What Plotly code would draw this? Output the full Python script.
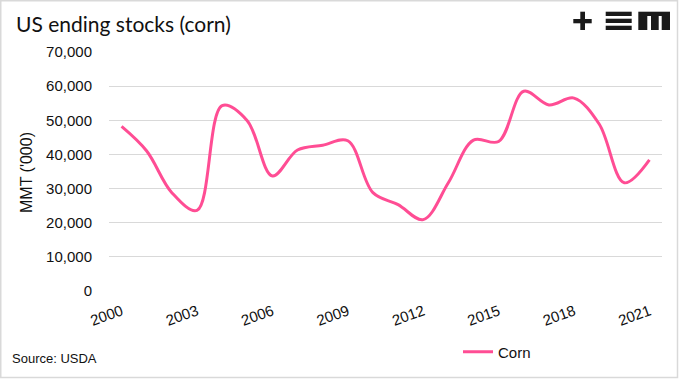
import plotly.graph_objects as go

years = [str(y) for y in range(2000, 2022)]
corn = [48200, 41000, 28800, 23600, 54300, 49900, 33700, 41300, 42700, 44000,
        28800, 25300, 20900, 31700, 44200, 43800, 58500, 54500, 56500, 48900,
        31700, 38400]
tick_years = ["2000", "2003", "2006", "2009", "2012", "2015", "2018", "2021"]
y_ticks = [0, 10000, 20000, 30000, 40000, 50000, 60000, 70000]

W, H = 681, 379
L, R, T, B = 109, 19, 52, 88
PW, PH = W - L - R, H - T - B


def px(x):
    return (x - L) / PW


def py(y):
    return (H - B - y) / PH


fig = go.Figure()
fig.add_trace(go.Scatter(
    x=years, y=corn, mode="lines", name="Corn",
    line=dict(color="#ff4d94", width=3, shape="spline", smoothing=1),
))

shapes = []
# outer border
shapes.append(dict(type="rect", xref="paper", yref="paper",
                   x0=px(0.75), x1=px(677.5), y0=py(377.5), y1=py(0.75),
                   line=dict(color="#d9d9d9", width=1.5), fillcolor="rgba(0,0,0,0)", layer="below"))


def box(x0, y0, x1, y1, color="#1a1a1a"):
    shapes.append(dict(type="rect", xref="paper", yref="paper",
                       x0=px(x0), x1=px(x1), y0=py(y1), y1=py(y0),
                       line=dict(width=0), fillcolor=color, layer="above"))


# logo "+"
box(573.3, 19.0, 591.7, 23.3)
box(580.3, 11.7, 585.0, 30.0)
# logo "E" bars
box(605.7, 11.7, 631.7, 16.0)
box(605.7, 18.7, 631.7, 23.0)
box(605.7, 25.7, 631.7, 30.0)
# logo "M"
box(638.3, 11.7, 670.0, 30.0)
box(647.3, 16.0, 651.0, 30.2, "white")
box(658.7, 16.0, 661.7, 30.2, "white")

annotations = [
    dict(text="US ending stocks (corn)", xref="paper", yref="paper",
         x=px(14), y=py(24), xanchor="left", yanchor="middle", showarrow=False,
         font=dict(family="Lato", size=21, color="#111111")),
    dict(text="Source: USDA", xref="paper", yref="paper",
         x=px(10), y=py(358), xanchor="left", yanchor="middle", showarrow=False,
         font=dict(family="Liberation Sans", size=13, color="#111111")),
    dict(text="MMT ('000)", xref="paper", yref="paper", textangle=-90,
         x=px(26), y=py(173), xanchor="center", yanchor="middle", showarrow=False,
         font=dict(family="Liberation Sans", size=16, color="#111111")),
]

fig.update_layout(
    width=W, height=H,
    margin=dict(l=L, r=R, t=T, b=B, autoexpand=False),
    paper_bgcolor="white", plot_bgcolor="white",
    font=dict(family="Liberation Sans", size=15, color="#111111"),
    showlegend=True,
    legend=dict(orientation="h", x=px(458), y=py(352), xanchor="left", yanchor="middle",
                font=dict(size=15, color="#111111"), bgcolor="rgba(0,0,0,0)"),
    shapes=shapes, annotations=annotations,
    xaxis=dict(type="category", categoryorder="array", categoryarray=years,
               tickmode="array", tickvals=tick_years, ticktext=tick_years,
               tickangle=-20, showgrid=False, showline=False, ticks="",
               ticklabelstandoff=8, range=[-0.5, 21.5], fixedrange=True),
    yaxis=dict(range=[0, 70000], tickmode="array", tickvals=y_ticks,
               tickformat=",", showgrid=True, gridcolor="#d9d9d9", gridwidth=1,
               zeroline=False, showline=False, ticks="", ticklabelstandoff=16),
)

fig.write_html(
    "out.html",
    config={"displayModeBar": False},
    post_script="document.body.style.margin='0';document.body.style.overflow='hidden';",
)
